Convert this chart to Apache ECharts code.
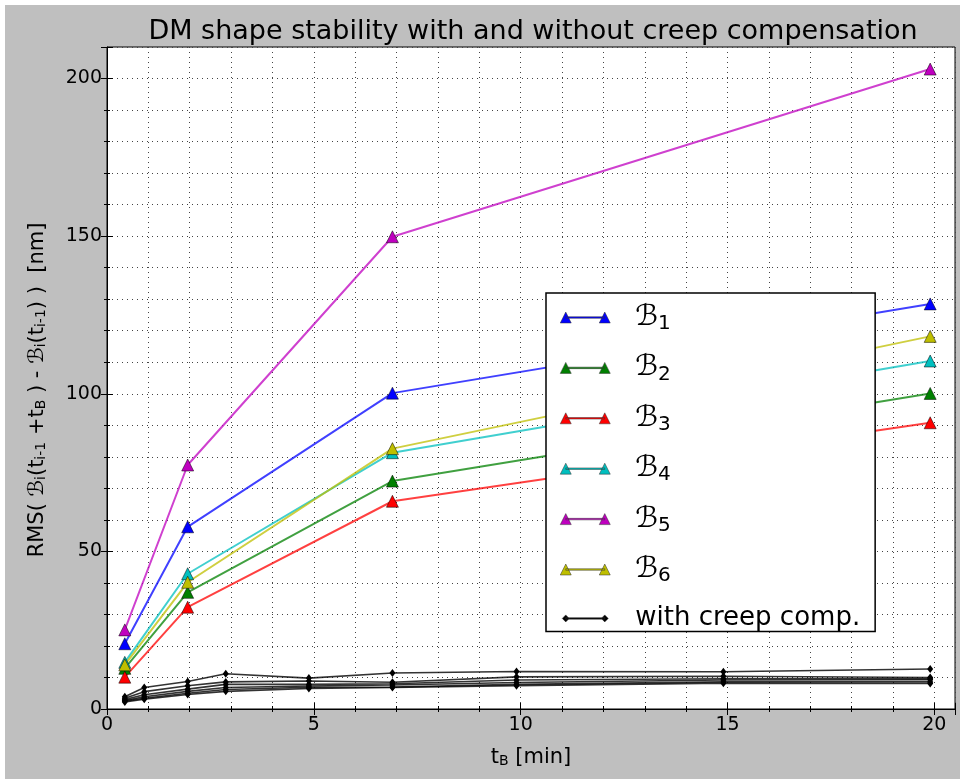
<!DOCTYPE html>
<html>
<head>
<meta charset="utf-8">
<script src="https://cdn.jsdelivr.net/npm/echarts@6/dist/echarts.min.js"></script>
<style>
  html, body { margin: 0; padding: 0; background: #ffffff; }
  #chart { position: absolute; left: 5px; top: 5px; width: 955px; height: 774px; }
</style>
</head>
<body>
<div id="chart"></div>
<script>
// Sampling times [min] for the uncompensated runs
const tUncomp = [0.43, 1.95, 6.9, 19.9];
// RMS shape change [nm], one array per mode set, without creep compensation
const b1 = [20.7, 57.8, 100.2, 128.5];
const b2 = [12.9, 37.0, 72.3, 100.1];
const b3 = [10.1, 32.3, 65.9, 90.8];
const b4 = [14.8, 42.9, 81.3, 110.4];
const b5 = [25.1, 77.4, 149.8, 203.0];
const b6 = [14.0, 40.2, 82.6, 118.2];

// Sampling times [min] for the compensated runs
const tComp = [0.43, 0.9, 1.95, 2.87, 4.88, 6.9, 9.9, 14.9, 19.9];
// RMS shape change [nm] with creep compensation
const c1 = [3.9, 6.8, 8.7, 11.2, 9.8, 11.4, 11.9, 11.8, 12.7];
const c2 = [3.4, 5.5, 7.4, 8.6, 8.9, 8.5, 10.2, 10.4, 10.0];
const c3 = [3.0, 4.5, 6.3, 7.8, 7.8, 8.0, 9.2, 9.6, 9.6];
const c4 = [2.7, 3.9, 5.6, 6.8, 7.3, 7.6, 8.4, 9.2, 9.3];
const c5 = [2.5, 3.4, 5.0, 6.2, 6.9, 7.0, 7.8, 8.6, 8.6];
const c6 = [2.2, 3.1, 4.6, 5.6, 6.5, 6.8, 7.4, 8.2, 8.1];

// Axis ranges and tick steps
const xRange = [0, 20.5];
const xStep = 5;
const yRange = [0, 210];
const yStep = 50;

const uncompNames = ['B1', 'B2', 'B3', 'B4', 'B5', 'B6'];
const uncompData = [b1, b2, b3, b4, b5, b6];
const uncompColors = ['#0000ff', '#008000', '#ff0000', '#00bfbf', '#bf00bf', '#bfbf00'];
const compData = [c1, c2, c3, c4, c5, c6];
const compName = 'with creep comp.';

const FONT = 'DejaVu Sans';

function pairs(xs, ys) { return xs.map((x, i) => [x, ys[i]]); }

// Legend glyphs: a short line with a marker at each end (bbox padded to 50x12)
const triIcon = 'path://M0,0L0,0M50,12L50,12M0,11.5L5.5,0.5L11,11.5ZM39,11.5L44.5,0.5L50,11.5ZM5.5,5.25L44.5,5.25L44.5,6.75L5.5,6.75Z';
const diaIcon = 'path://M0,0L0,0M50,12L50,12M5.5,2.5L9,6L5.5,9.5L2,6ZM44.5,2.5L48,6L44.5,9.5L41,6ZM5.5,5.25L44.5,5.25L44.5,6.75L5.5,6.75Z';

const series = [];
uncompData.forEach((ys, i) => {
  series.push({
    name: uncompNames[i],
    type: 'line',
    xAxisIndex: 0, yAxisIndex: 0,
    data: pairs(tUncomp, ys),
    symbol: 'triangle',
    symbolSize: 12,
    lineStyle: { color: uncompColors[i], width: 2, opacity: 0.75 },
    itemStyle: { color: uncompColors[i], borderColor: '#000', borderWidth: 0.5 },
    emphasis: { disabled: true },
    animation: false,
    z: 3
  });
});
compData.forEach((ys) => {
  series.push({
    name: compName,
    type: 'line',
    xAxisIndex: 0, yAxisIndex: 0,
    data: pairs(tComp, ys),
    symbol: 'diamond',
    symbolSize: [6, 8],
    lineStyle: { color: '#000', width: 1.6, opacity: 0.8 },
    itemStyle: { color: '#000' },
    emphasis: { disabled: true },
    animation: false,
    z: 4
  });
});

const gridLine = { show: true, lineStyle: { color: '#444', width: 1, type: [1, 4] } };

const chart = echarts.init(document.getElementById('chart'), null, { renderer: 'canvas' });
chart.setOption({
  backgroundColor: '#bfbfbf',
  animation: false,
  title: {
    text: 'DM shape stability with and without creep compensation',
    left: 523,
    top: 8,
    textAlign: 'center',
    textStyle: { fontFamily: FONT, fontSize: 27, fontWeight: 'normal', color: '#000' }
  },
  grid: {
    left: 102, right: 5, top: 42, bottom: 70,
    show: true, backgroundColor: '#ffffff', borderColor: '#000', borderWidth: 1
  },
  legend: {
    orient: 'vertical',
    left: 541,
    top: 288,
    padding: [10, 15, 0, 14],
    itemGap: 19.4,
    itemWidth: 50,
    itemHeight: 12,
    backgroundColor: '#ffffff',
    borderColor: '#000',
    borderWidth: 1.5,
    borderRadius: 0,
    z: 10,
    data: [
      { name: 'B1', icon: triIcon },
      { name: 'B2', icon: triIcon },
      { name: 'B3', icon: triIcon },
      { name: 'B4', icon: triIcon },
      { name: 'B5', icon: triIcon },
      { name: 'B6', icon: triIcon },
      { name: compName, icon: diaIcon }
    ],
    itemStyle: { borderColor: '#333', borderWidth: 0.5 },
    formatter: (name) => name === compName ? '{t|' + name + '}' : '{c|ℬ}{s|' + name.slice(1) + '}',
    textStyle: {
      fontFamily: FONT, color: '#000', padding: [0, 0, 0, 20],
      rich: {
        t: { fontFamily: FONT, fontSize: 26, lineHeight: 33, verticalAlign: 'middle' },
        c: { fontFamily: FONT, fontSize: 29, lineHeight: 33, verticalAlign: 'middle' },
        s: { fontFamily: FONT, fontSize: 20, lineHeight: 20, verticalAlign: 'bottom' }
      }
    },
    selectedMode: false
  },
  xAxis: [{
    type: 'value',
    min: xRange[0], max: xRange[1], interval: xStep,
    name: 't{s|B} [min]',
    nameLocation: 'middle',
    nameGap: 38,
    nameTextStyle: {
      fontFamily: FONT, fontSize: 21, color: '#000',
      rich: { s: { fontFamily: FONT, fontSize: 14, lineHeight: 14, verticalAlign: 'bottom' } }
    },
    axisLine: { show: true, onZero: false, lineStyle: { color: '#000', width: 1 } },
    axisTick: { show: true, inside: true, length: 6, lineStyle: { color: '#000' } },
    minorTick: { show: true, splitNumber: 5, length: 3, lineStyle: { color: '#000' } },
    axisLabel: { fontFamily: FONT, fontSize: 19, color: '#000', margin: 7, showMaxLabel: false },
    splitLine: gridLine,
    minorSplitLine: gridLine
  }, {
    type: 'value', position: 'top',
    min: xRange[0], max: xRange[1], interval: xStep,
    axisLine: { show: false },
    axisTick: { show: true, inside: true, length: 6, lineStyle: { color: '#000' } },
    minorTick: { show: true, splitNumber: 5, length: 3, lineStyle: { color: '#000' } },
    axisLabel: { show: false },
    splitLine: { show: false }
  }],
  yAxis: [{
    type: 'value',
    min: yRange[0], max: yRange[1], interval: yStep,
    name: 'RMS( {c|ℬ}{s|i}(t{s|i-1} +t{s|B} ) - {c|ℬ}{s|i}(t{s|i-1}) )  [nm]',
    nameLocation: 'middle',
    nameRotate: 90,
    nameGap: 59,
    nameTextStyle: {
      fontFamily: FONT, fontSize: 21, color: '#000', padding: [0, 24, 0, 0],
      rich: {
        c: { fontFamily: FONT, fontSize: 21, fontStyle: 'italic' },
        s: { fontFamily: FONT, fontSize: 14, lineHeight: 14, verticalAlign: 'bottom' }
      }
    },
    axisLine: { show: true, onZero: false, lineStyle: { color: '#000', width: 1 } },
    axisTick: { show: true, inside: true, length: 6, lineStyle: { color: '#000' } },
    minorTick: { show: true, splitNumber: 5, length: 3, lineStyle: { color: '#000' } },
    axisLabel: { fontFamily: FONT, fontSize: 19, color: '#000', margin: 5, showMaxLabel: false },
    splitLine: gridLine,
    minorSplitLine: gridLine
  }, {
    type: 'value', position: 'right',
    min: yRange[0], max: yRange[1], interval: yStep,
    axisLine: { show: false },
    axisTick: { show: true, inside: true, length: 6, lineStyle: { color: '#000' } },
    minorTick: { show: true, splitNumber: 5, length: 3, lineStyle: { color: '#000' } },
    axisLabel: { show: false },
    splitLine: { show: false }
  }],
  series: series
});
</script>
</body>
</html>
